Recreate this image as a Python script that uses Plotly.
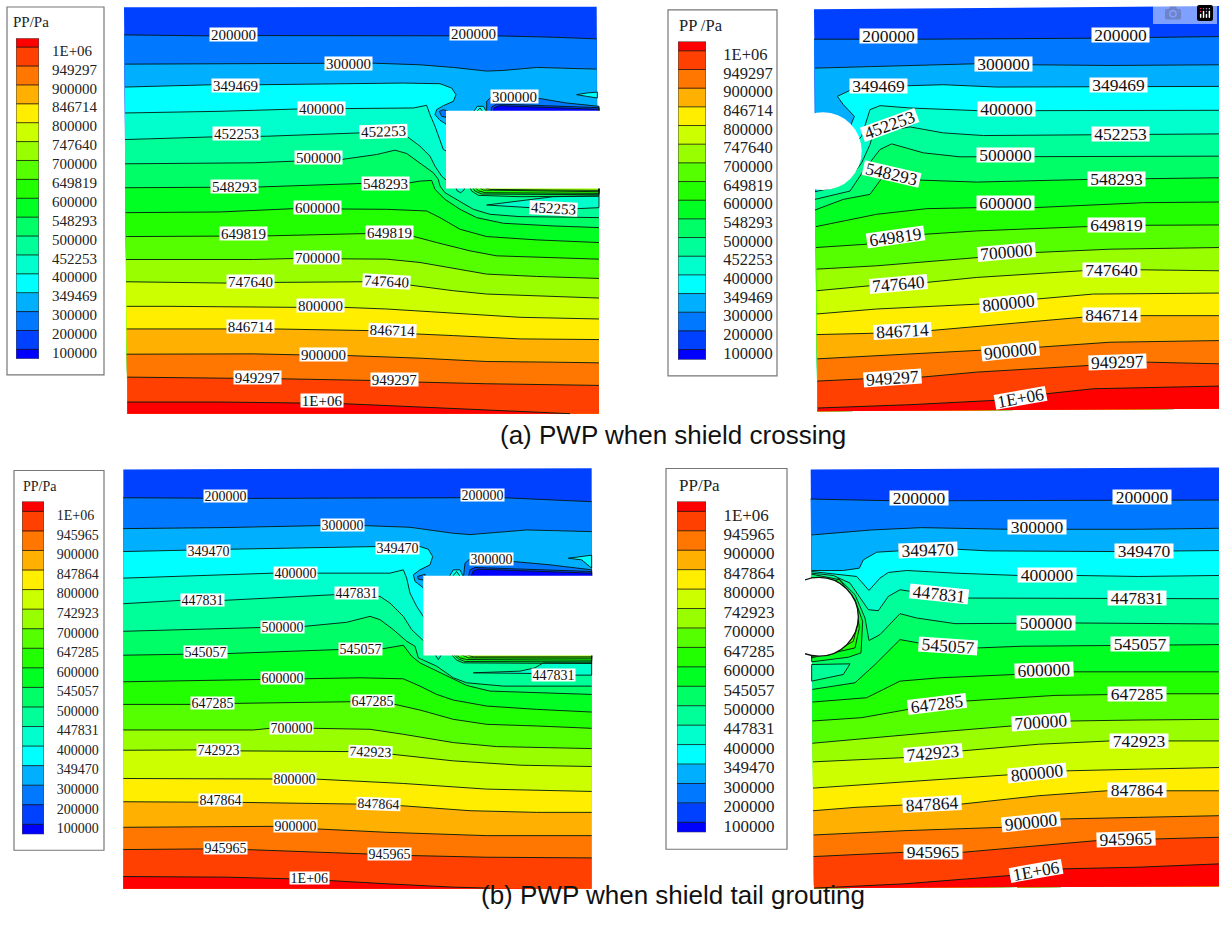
import plotly.graph_objects as go

W, H = 1219, 931

COLORS = ['#FF0000', '#FF4000', '#FF7700', '#FFB000', '#FFEE00', '#CCFF00', '#99FF00', '#55FF00', '#22FF00',
          '#00FF22', '#00FF66', '#00FF99', '#00FFCC', '#00FFFF', '#00B0FF', '#0078FF', '#0040FF', '#0000FF']
LEVELS_A = ['1E+06', '949297', '900000', '846714', '800000', '747640', '700000', '649819', '600000',
            '548293', '500000', '452253', '400000', '349469', '300000', '200000', '100000']
LEVELS_B = ['1E+06', '945965', '900000', '847864', '800000', '742923', '700000', '647285', '600000',
            '545057', '500000', '447831', '400000', '349470', '300000', '200000', '100000']

# Panel (a) left: contour lines, in crop reading units
A1_200000 = [(12,105),(270,108),(410,107),(990,108),(1130,108),(1300,112),(1430,117)]
A1_300000 = [(15,193),(300,192),(615,190),(755,190),(900,195),(1000,203),(1100,214),(1150,212),(1250,203),(1330,206),(1430,208)]
A1_349469 = [(15,262),(280,255),(420,255),(700,252),(850,250),(960,252),(995,265),(1008,285),(1000,305),(970,318),(950,330),(945,345),(960,362),(985,378),(1200,450),(1437,450)]
A1_400000 = [(15,340),(300,335),(535,328),(675,327),(880,325),(920,317),(930,345),(945,380),(970,450),(985,458),(1200,470),(1437,470)]
A1_452253 = [(15,420),(280,412),(440,410),(720,400),(860,410),(900,440),(930,470),(945,500),(965,530),(985,548),(1200,500),(1437,500)]
A1_500000 = [(15,493),(400,490),(525,485),(665,480),(770,465),(825,452),(860,462),(900,490),(940,520),(955,540),(960,560),(975,580),(1010,600),(1060,630),(1110,645),(1200,652),(1300,653),(1437,655)]
A1_548293 = [(15,565),(275,565),(410,563),(730,552),(870,550),(900,545),(935,543),(945,570),(975,600),(1020,630),(1070,655),(1150,672),(1300,680),(1437,685)]
A1_600000 = [(17,640),(300,638),(520,628),(660,628),(800,630),(920,635),(960,655),(1020,690),(1100,712),(1250,722),(1437,730)]
A1_649819 = [(18,712),(300,712),(440,710),(735,703),(875,710),(950,730),(1050,755),(1130,770),(1300,775),(1437,780)]
A1_700000 = [(18,781),(400,781),(525,778),(660,778),(800,780),(900,790),(1000,808),(1100,825),(1250,832),(1437,838)]
A1_747640 = [(18,848),(320,852),(460,850),(730,848),(870,858),(1000,875),(1100,885),(1250,890),(1437,897)]
A1_800000 = [(20,922),(150,922),(530,925),(670,925),(800,930),(1000,942),(1200,955),(1437,960)]
A1_846714 = [(20,990),(320,990),(460,990),(750,995),(885,1005),(1000,1010),(1200,1020),(1437,1022)]
A1_900000 = [(20,1066),(400,1065),(540,1068),(680,1070),(900,1078),(1100,1088),(1300,1090),(1437,1092)]
A1_949297 = [(22,1135),(340,1137),(480,1140),(755,1145),(895,1150),(1100,1155),(1250,1158),(1437,1160)]
A1_1E06 = [(22,1210),(300,1210),(545,1213),(670,1215),(900,1225),(1100,1233),(1300,1243),(1350,1245)]
A1_LINES = [A1_200000, A1_300000, A1_349469, A1_400000, A1_452253, A1_500000, A1_548293, A1_600000,
            A1_649819, A1_700000, A1_747640, A1_800000, A1_846714, A1_900000, A1_949297, A1_1E06]
A1_LOCAL = [
    ([(1100,340),(1100,305),(1115,290),(1250,295),(1340,310),(1437,320),(1437,340)], 15),
    ([(1112,340),(1115,322),(1130,313),(1437,324),(1437,340)], 16),
    ([(1118,340),(1122,325),(1138,318),(1437,329),(1437,340)], 17),
    ([(1058,340),(1072,320),(1090,320),(1102,340)], 13),
    ([(1066,340),(1080,325),(1092,340)], 12),
    ([(958,335),(970,330),(985,335),(985,355),(965,350)], 15),
    ([(1370,285),(1400,280),(1432,277),(1432,295),(1400,290)], 13),
    ([(1100,617),(1230,600),(1300,592),(1437,590),(1437,625),(1370,628),(1230,625)], 12),
    ([(1048,560),(1055,575),(1075,588),(1200,592),(1437,590),(1437,560)], 10),
    ([(1055,560),(1065,575),(1085,584),(1437,586),(1437,560)], 9),
    ([(1062,560),(1075,574),(1095,580),(1437,582),(1437,560)], 8),
    ([(1072,560),(1090,572),(1437,577),(1437,560)], 7),
    ([(1085,560),(1110,570),(1300,572),(1437,573),(1437,560)], 6),
    ([(1005,560),(1012,575),(1022,580),(1032,572),(1035,560)], 12),
]
A1_TEXT = [('200000',340,103,0),('200000',1060,101,0),('300000',685,190,0),('349469',347,256,0),('400000',604,327,0),
           ('452253',350,403,0),('452253',790,395,-2),('500000',595,474,0),('548293',342,561,0),('548293',797,553,0),
           ('600000',592,626,0),('649819',369,702,0),('649819',807,699,0),('700000',593,776,0),('747640',390,846,0),
           ('747640',800,847,3),('800000',601,920,0),('846714',390,984,0),('846714',816,995,2),('900000',610,1067,0),
           ('949297',412,1135,0),('949297',823,1142,0),('1E+06',607,1205,0),('300000',1182,290,0),('452253',1300,627,3)]

# Panel (a) right
A2_200000 = [(12,118),(150,118),(320,118),(845,115),(1015,112),(1227,110)]
A2_300000 = [(15,205),(200,200),(495,192),(665,195),(900,197),(1227,195)]
A2_349469 = [(50,455),(122,378),(133,350),(100,315),(82,290),(120,272),(290,258),(400,255),(560,262),(840,262),(1010,260),(1227,260)]
A2_400000 = [(20,560),(155,410),(180,330),(210,318),(300,325),(500,333),(680,333),(1227,332)]
A2_452253 = [(15,577),(70,565),(125,530),(155,490),(180,435),(190,400),(300,382),(400,400),(520,408),(845,405),(1020,405),(1227,403)]
A2_500000 = [(15,600),(120,575),(160,515),(210,450),(245,433),(340,460),(450,472),(500,472),(670,470),(1227,470)]
A2_548293 = [(15,632),(100,600),(180,585),(220,530),(330,542),(500,548),(835,540),(1005,538),(1227,535)]
A2_600000 = [(18,682),(100,665),(200,645),(350,628),(500,625),(670,625),(1000,610),(1227,608)]
A2_649819 = [(18,745),(170,735),(345,705),(500,695),(830,682),(1000,678),(1227,677)]
A2_700000 = [(20,810),(200,800),(505,775),(675,760),(900,750),(1227,745)]
A2_747640 = [(20,875),(180,860),(350,850),(500,835),(815,815),(990,812),(1227,815)]
A2_800000 = [(20,945),(200,930),(510,915),(680,900),(850,885),(1227,882)]
A2_846714 = [(20,1007),(190,1003),(360,995),(600,975),(815,955),(990,950),(1227,950)]
A2_900000 = [(22,1080),(300,1065),(515,1055),(685,1045),(900,1030),(1227,1025)]
A2_949297 = [(22,1147),(165,1140),(335,1135),(500,1120),(835,1100),(1010,1090),(1227,1095)]
A2_1E06 = [(24,1228),(300,1218),(555,1205),(710,1185),(850,1170),(1227,1162)]
A2_LINES = [A2_200000, A2_300000, A2_349469, A2_400000, A2_452253, A2_500000, A2_548293, A2_600000,
            A2_649819, A2_700000, A2_747640, A2_800000, A2_846714, A2_900000, A2_949297, A2_1E06]
A2_LOCAL = []
A2_TEXT = [('200000',234,107,0),('200000',930,105,0),('300000',580,194,0),('349469',205,258,0),('349469',925,255,0),
           ('400000',590,329,0),('452253',238,375,-20),('452253',932,402,0),('500000',585,467,0),('548293',245,525,13),
           ('548293',918,538,0),('600000',587,611,0),('649819',256,713,-8),('649819',918,678,0),('700000',590,759,-5),
           ('747640',265,856,-5),('747640',903,813,0),('800000',595,912,-6),('846714',277,997,-3),('846714',903,949,0),
           ('900000',600,1057,-6),('949297',248,1137,-4),('949297',922,1090,-2),('1E+06',630,1197,-10)]

# Panel (b) left
B1_200000 = [(10,103),(250,105),(385,105),(1020,103),(1150,103),(1415,115)]
B1_300000 = [(10,196),(300,193),(600,187),(735,187),(870,192),(1000,210),(1050,214),(1130,208),(1220,200),(1415,205)]
B1_349470 = [(10,265),(200,262),(330,258),(770,250),(900,250),(925,258),(938,280),(930,305),(900,320),(880,335),(885,355),(915,378),(1200,450),(1415,450)]
B1_400000 = [(10,345),(300,335),(460,330),(595,330),(810,330),(850,320),(860,345),(870,390),(890,430),(915,468),(1200,470),(1415,470)]
B1_447831 = [(10,422),(180,412),(310,412),(640,395),(780,400),(810,420),(850,460),(875,500),(915,538),(1200,500),(1415,500)]
B1_500000 = [(10,505),(300,497),(425,492),(555,490),(680,478),(750,460),(780,470),(820,500),(860,535),(885,550),(895,585),(950,610),(1000,645),(1040,660),(1150,670),(1415,670)]
B1_545057 = [(10,577),(190,575),(320,572),(655,560),(785,558),(850,547),(875,580),(900,600),(980,640),(1040,668),(1110,685),(1250,690),(1415,695)]
B1_600000 = [(10,657),(420,650),(550,650),(720,645),(850,648),(900,670),(950,695),(1000,712),(1100,730),(1250,740),(1415,748)]
B1_647285 = [(10,725),(210,725),(340,722),(695,717),(825,725),(900,742),(1000,770),(1100,785),(1250,790),(1415,797)]
B1_700000 = [(10,802),(400,802),(450,797),(580,797),(750,800),(850,815),(1000,840),(1130,852),(1415,858)]
B1_742923 = [(10,863),(230,862),(360,865),(685,867),(815,875),(1000,895),(1200,908),(1415,912)]
B1_800000 = [(10,948),(460,950),(590,950),(850,963),(1100,980),(1415,987)]
B1_847864 = [(10,1018),(235,1018),(365,1020),(710,1025),(845,1030),(1050,1045),(1250,1050),(1415,1050)]
B1_900000 = [(10,1095),(460,1092),(595,1100),(800,1110),(1100,1120),(1415,1120)]
B1_945965 = [(10,1162),(250,1160),(380,1162),(745,1175),(875,1180),(1100,1185),(1415,1187)]
B1_1E06 = [(10,1243),(320,1245),(510,1250),(625,1255),(800,1265),(1000,1275),(1110,1278)]
B1_LINES = [B1_200000, B1_300000, B1_349470, B1_400000, B1_447831, B1_500000, B1_545057, B1_600000,
            B1_647285, B1_700000, B1_742923, B1_800000, B1_847864, B1_900000, B1_945965, B1_1E06]
B1_LOCAL = [
    ([(1030,345),(1035,300),(1050,287),(1180,295),(1290,305),(1415,320),(1415,345)], 15),
    ([(1045,345),(1050,320),(1065,313),(1415,325),(1415,345)], 16),
    ([(1050,345),(1060,323),(1075,318),(1415,330),(1415,345)], 17),
    ([(985,345),(1000,320),(1020,320),(1032,345)], 13),
    ([(993,345),(1010,325),(1024,345)], 12),
    ([(893,340),(915,333),(915,352),(895,348)], 15),
    ([(1345,285),(1380,280),(1415,276),(1415,315),(1385,290)], 13),
    ([(1060,630),(1200,625),(1245,615),(1270,600),(1415,600),(1415,637),(1365,637),(1240,632)], 12),
    ([(990,570),(1010,592),(1030,600),(1415,602),(1415,570)], 10),
    ([(996,570),(1015,588),(1035,596),(1415,597),(1415,570)], 9),
    ([(1002,570),(1020,585),(1040,590),(1415,592),(1415,570)], 8),
    ([(1012,570),(1045,585),(1415,586),(1415,570)], 7),
    ([(1022,570),(1060,582),(1415,582),(1415,570)], 6),
    ([(942,570),(955,590),(968,570)], 12),
]
B1_TEXT = [('200000',317,98,0),('200000',1086,94,0),('300000',667,185,0),('349470',265,262,0),('349470',832,254,0),
           ('400000',526,331,0),('447831',246,411,0),('447831',708,391,0),('500000',488,492,0),('545057',255,567,0),
           ('545057',720,558,0),('600000',487,647,0),('647285',276,720,0),('647285',758,716,0),('700000',515,796,0),
           ('742923',294,862,0),('742923',750,867,2),('800000',524,950,0),('847864',300,1014,0),('847864',776,1026,2),
           ('900000',527,1090,0),('945965',315,1158,0),('945965',808,1175,0),('1E+06',568,1247,0),('300000',1114,286,0),
           ('447831',1301,636,0)]

# Panel (b) right
B2_200000 = [(17,107),(130,110),(255,112),(430,112),(925,112),(1100,110),(1242,110)]
B2_300000 = [(20,215),(200,200),(350,193),(500,195),(610,198),(785,198),(1000,198),(1242,195)]
B2_349470 = [(20,322),(115,322),(163,315),(175,290),(215,267),(280,263),(455,258),(550,263),(930,265),(1103,263),(1242,262)]
B2_400000 = [(20,325),(95,333),(155,340),(192,382),(225,345),(250,328),(305,322),(450,330),(640,337),(815,337),(1000,340),(1242,337)]
B2_447831 = [(20,330),(85,337),(135,360),(190,440),(220,443),(250,400),(285,380),(318,385),(490,405),(905,405),(1080,405),(1242,407)]
B2_500000 = [(20,333),(105,350),(150,395),(180,465),(192,533),(225,515),(285,452),(335,465),(450,482),(640,482),(810,480),(1242,483)]
B2_545057 = [(22,680),(150,660),(210,605),(285,530),(340,540),(520,555),(650,550),(920,547),(1095,545),(1242,545)]
B2_600000 = [(22,718),(185,705),(285,655),(405,645),(630,635),(805,627),(1242,627)]
B2_647285 = [(22,775),(170,765),(310,740),(480,715),(750,698),(905,695),(1080,693),(1242,693)]
B2_700000 = [(22,842),(200,825),(400,808),(620,790),(795,775),(1000,772),(1242,770)]
B2_742923 = [(24,898),(150,893),(300,885),(470,865),(700,845),(915,835),(1090,835),(1242,835)]
B2_800000 = [(24,977),(200,965),(400,950),(610,935),(785,925),(1000,920),(1242,915)]
B2_847864 = [(24,1045),(150,1035),(295,1028),(470,1025),(700,1000),(905,985),(1080,985),(1242,985)]
B2_900000 = [(26,1118),(300,1105),(590,1095),(770,1070),(1000,1065),(1242,1060)]
B2_945965 = [(26,1183),(150,1178),(300,1170),(475,1170),(700,1150),(875,1135),(1050,1130),(1242,1125)]
B2_1E06 = [(27,1278),(300,1265),(615,1240),(770,1220),(1000,1215),(1242,1205)]
B2_LINES = [B2_200000, B2_300000, B2_349470, B2_400000, B2_447831, B2_500000, B2_545057, B2_600000,
            B2_647285, B2_700000, B2_742923, B2_800000, B2_847864, B2_900000, B2_945965, B2_1E06]
B2_LOCAL = [
    ([(100,345),(150,410),(173,475),(168,570),(130,583),(20,597),(20,460)], 9),
    ([(125,385),(155,435),(163,495),(150,555),(20,585),(20,460)], 8),
    ([(145,425),(160,475),(145,535),(85,570),(20,580),(20,460)], 7),
    ([(20,605),(135,603),(115,635),(45,650),(20,655)], 11),
]
B2_TEXT = [('200000',343,105,0),('200000',1012,102,0),('300000',697,192,0),('349470',368,259,-2),('349470',1016,264,0),
           ('400000',727,335,0),('447831',403,393,6),('447831',995,405,0),('500000',723,481,0),('545057',430,549,4),
           ('545057',1006,542,0),('600000',717,620,-2),('647285',395,724,-7),('647285',995,694,0),('700000',708,778,-4),
           ('742923',383,870,-5),('742923',1003,835,0),('800000',695,932,-6),('847864',382,1024,-3),('847864',995,983,0),
           ('900000',678,1078,-6),('945965',385,1169,0),('945965',963,1129,-2),('1E+06',692,1225,-10)]

# panel crop in page pixels (left, top, right, bottom)
PANELS = [
    dict(crop=(120,0,600,430), lines=A1_LINES, local=A1_LOCAL, text=A1_TEXT, corners=[(12,22),(1430,20),(1437,1245),(22,1245)],
         hole=('rect',978,333,1445,567), size=15, box=(47,13), ring=False),
    dict(crop=(810,0,1219,420), lines=A2_LINES, local=A2_LOCAL, text=A2_TEXT, corners=[(12,28),(1227,18),(1227,1230),(22,1238)],
         hole=('circle',-76,338,155,572), size=17.5, box=(57,14), ring=False),
    dict(crop=(120,465,600,895), lines=B1_LINES, local=B1_LOCAL, text=B1_TEXT, corners=[(10,18),(1415,14),(1415,1280),(10,1280)],
         hole=('rect',910,338,1425,578), size=14, box=(43,12), ring=False),
    dict(crop=(805,465,1219,895), lines=B2_LINES, local=B2_LOCAL, text=B2_TEXT, corners=[(17,18),(1242,12),(1242,1272),(27,1278)],
         hole=('circle',-76,343,160,580), size=17.5, box=(58,14), ring=True),
]
# legend geometry in page pixels
LEGENDS = [
    dict(box=(7,7,104,376), sw=(16,39,38.3,360), first=47.3, last=350.5, labels=LEVELS_A, title='PP/Pa', tx=12, ty=22, size=15, off=.18),
    dict(box=(668,10,777,377), sw=(678,706,41.7,361), first=51, last=350.7, labels=LEVELS_A, title='PP /Pa', tx=678, ty=26, size=16.5, off=.18),
    dict(box=(14,472,104,853), sw=(22,44,503,837), first=513, last=827, labels=LEVELS_B, title='PP/Pa', tx=22, ty=488, size=14, off=.2),
    dict(box=(666,470,787,852), sw=(677,706,503,835), first=513, last=825, labels=LEVELS_B, title='PP/Pa', tx=678, ty=487, size=17, off=.17),
]
CAPTIONS = [('(a) PWP when shield crossing', 673, 436), ('(b) PWP when shield tail grouting', 673, 914)]

SERIF = 'Liberation Serif'
fig = go.Figure()
layout = {}
shapes, annos = [], []


def poly(points, color, xa, ya):
    xs = [p[0] for p in points]
    ys = [p[1] for p in points]
    fig.add_trace(go.Scatter(x=xs + xs[:1], y=ys + ys[:1], mode='lines', fill='toself', fillcolor=color,
                             line=dict(width=0, color=color), hoverinfo='skip', showlegend=False, xaxis=xa, yaxis=ya))


def stroke(points, xa, ya):
    fig.add_trace(go.Scatter(x=[p[0] for p in points], y=[p[1] for p in points], mode='lines',
                             line=dict(width=1, color='rgba(0,25,15,0.9)'), hoverinfo='skip', showlegend=False,
                             xaxis=xa, yaxis=ya))


def axis_pair(n, x0, x1, y0, y1, xr, yr):
    layout['xaxis%d' % n] = dict(domain=[x0 / W, x1 / W], range=xr, visible=False, anchor='y%d' % n, fixedrange=True)
    layout['yaxis%d' % n] = dict(domain=[1 - y1 / H, 1 - y0 / H], range=yr, visible=False, anchor='x%d' % n, fixedrange=True)


for i, p in enumerate(PANELS):
    n = i + 1
    xa, ya = 'x%d' % n, 'y%d' % n
    l, t, r, b = p['crop']
    axis_pair(n, l, r, t, b, [0, (r - l) * 3], [(b - t) * 3, 0])
    tl, tr, br, bl = p['corners']
    poly([tl, tr, br, bl], COLORS[16], xa, ya)
    for k, ln in enumerate(p['lines']):
        poly(ln + [br, bl], COLORS[15 - k], xa, ya)
    for pts, c in p['local']:
        poly(pts, COLORS[c], xa, ya)
    for ln in p['lines']:
        stroke(ln, xa, ya)
    for pts, c in p['local']:
        stroke(pts + pts[:1], xa, ya)
    kind, hx0, hy0, hx1, hy1 = p['hole']
    shapes.append(dict(type=kind, xref=xa, yref=ya, x0=hx0, x1=hx1, y0=hy0, y1=hy1, fillcolor='white', layer='above',
                       line=dict(width=1.3 if p['ring'] else 0, color='#111' if p['ring'] else 'white')))
    for s, x, y, ang in p['text']:
        w, h = p['box']
        annos.append(dict(text=s, x=x, y=y, xref=xa, yref=ya, showarrow=False, textangle=ang, bgcolor='white',
                          width=w * (0.9 if s == '1E+06' else 1), height=h, borderpad=0,
                          font=dict(family=SERIF, size=p['size'], color='#111')))

for i, g in enumerate(LEGENDS):
    n = i + 5
    x0, x1, y0, y1 = g['sw']
    step = (g['last'] - g['first']) / 16
    ymin = (y0 - g['first']) / step
    ymax = (y1 - g['first']) / step
    xa, ya = 'x%d' % n, 'y%d' % n
    axis_pair(n, x0, x1, y0, y1, [0, 1], [ymax, ymin])
    layout['yaxis%d' % n].update(visible=True, side='right', showgrid=False, zeroline=False, showline=False,
                                 tickmode='array', tickvals=[k + g['off'] for k in range(17)], ticktext=g['labels'],
                                 ticks='outside', ticklen=(13 if i in (1, 3) else 9), tickcolor='rgba(0,0,0,0)',
                                 tickfont=dict(family=SERIF, size=g['size'], color='#222'))
    x0b, y0b, x1b, y1b = g['box']
    shapes.append(dict(type='rect', xref='paper', yref='paper', x0=x0b / W, x1=x1b / W, y0=1 - y0b / H, y1=1 - y1b / H,
                       fillcolor='white', line=dict(width=1.2, color='#777'), layer='below'))
    edges = [ymin] + list(range(17)) + [ymax]
    scale = []
    for j, c in enumerate(COLORS):
        scale += [[j / 18, c], [(j + 1) / 18, c]]
    fig.add_trace(go.Heatmap(x=[0, 1], y=edges, z=[[j + 0.5] for j in range(18)], zmin=0, zmax=18, colorscale=scale,
                             showscale=False, hoverinfo='skip', xaxis=xa, yaxis=ya))
    gx, gy = [], []
    for k in range(17):
        gx += [0, 1, None]
        gy += [k, k, None]
    fig.add_trace(go.Scatter(x=gx, y=gy, mode='lines', line=dict(width=1, color='rgba(20,20,20,.8)'),
                             hoverinfo='skip', showlegend=False, xaxis=xa, yaxis=ya))
    fig.add_trace(go.Scatter(x=[0, 1, 1, 0, 0], y=[ymin, ymin, ymax, ymax, ymin], mode='lines',
                             line=dict(width=1, color='#444'), hoverinfo='skip', showlegend=False, xaxis=xa, yaxis=ya))
    annos.append(dict(text=g['title'], x=g['tx'] / W, y=1 - g['ty'] / H, xref='paper', yref='paper', xanchor='left',
                      yanchor='middle', showarrow=False, borderpad=0,
                      font=dict(family=SERIF, size=g['size'], color='#222')))

for s, x, y in CAPTIONS:
    annos.append(dict(text=s, x=x / W, y=1 - y / H, xref='paper', yref='paper', showarrow=False, borderpad=0,
                      font=dict(family='Liberation Sans', size=26, color='#111')))

fig.update_layout(width=W, height=H, margin=dict(l=0, r=0, t=0, b=0), paper_bgcolor='white', plot_bgcolor='rgba(0,0,0,0)',
                  showlegend=False, shapes=shapes, annotations=annos, **layout)
fig.write_html("out.html", post_script="document.body.style.margin='0';document.documentElement.style.overflow='hidden';")
